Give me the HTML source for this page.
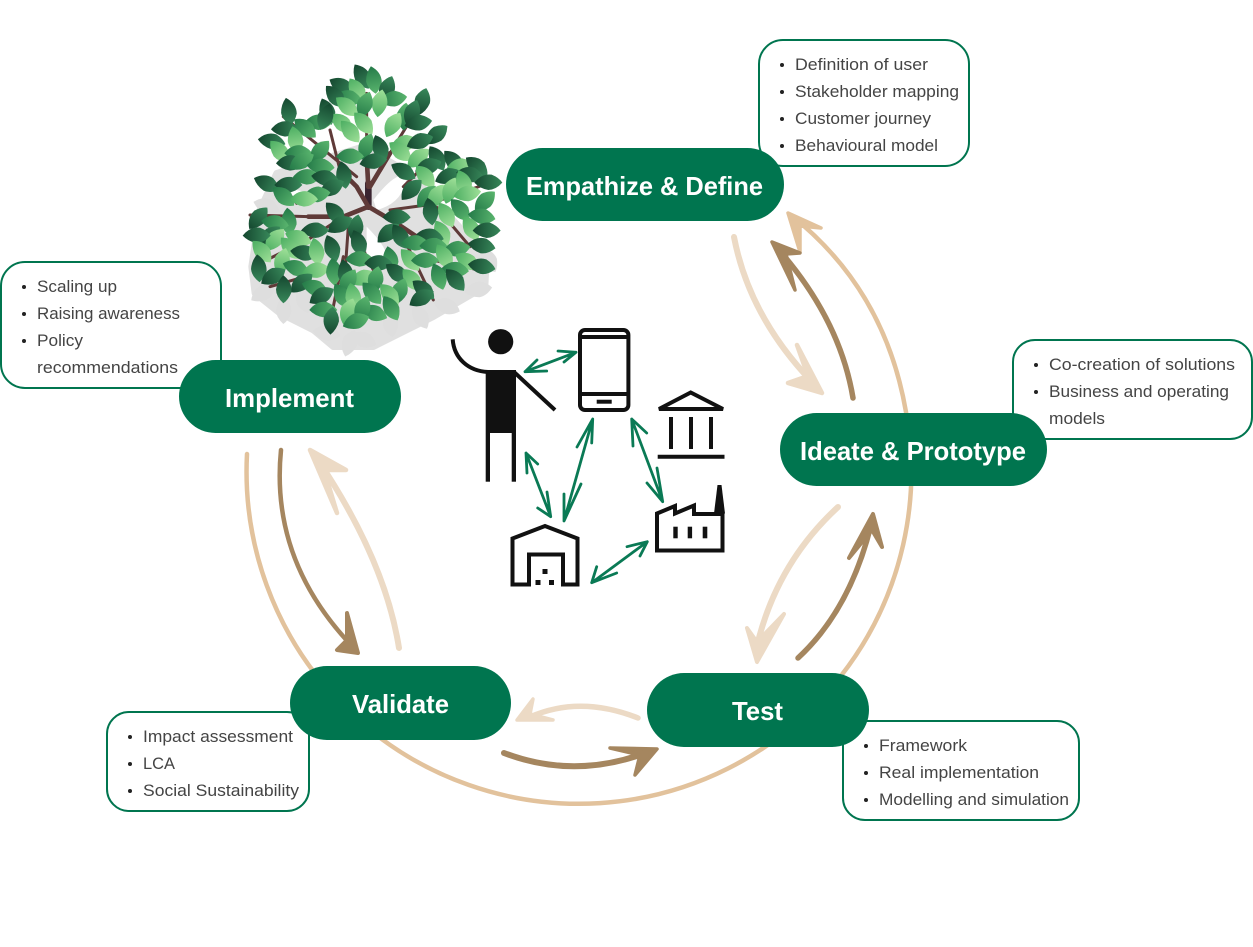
<!DOCTYPE html>
<html lang="en">
<head>
<meta charset="utf-8">
<title>Design cycle diagram</title>
<style>
html,body{margin:0;padding:0;background:#fff;width:1253px;height:947px;overflow:hidden}
svg{display:block}
.b{font-family:"Liberation Sans",sans-serif;font-size:17px;fill:#444}
.p{font-family:"Liberation Sans",sans-serif;font-size:26px;font-weight:700;fill:#fff}
.box{fill:#fff;stroke:#00754f;stroke-width:2}
.pill{fill:#00754f}
.dot{fill:#222}
.ga{fill:none;stroke:#0a7a55;stroke-width:2.8;stroke-linecap:round;stroke-linejoin:round}
.k{fill:none;stroke:#111;stroke-width:4}
</style>
</head>
<body>
<svg width="1253" height="947" viewBox="0 0 1253 947" xmlns="http://www.w3.org/2000/svg">
<defs>
<linearGradient id="gd" x1="0" y1="0" x2="1" y2="0"><stop offset="0" stop-color="#14472f"/><stop offset="1" stop-color="#38885a"/></linearGradient>
<linearGradient id="gm" x1="0" y1="0" x2="1" y2="0"><stop offset="0" stop-color="#247a48"/><stop offset="1" stop-color="#5ab56e"/></linearGradient>
<linearGradient id="gl" x1="0" y1="0" x2="1" y2="0"><stop offset="0" stop-color="#4cae62"/><stop offset="1" stop-color="#9fe098"/></linearGradient>
<path id="d" fill="url(#gd)" d="M-42 0Q-20-28 10-24Q32-15 42 0Q22 22 0 22Q-25 18-42 0Z"/>
<path id="m" fill="url(#gm)" d="M-42 0Q-20-28 10-24Q32-15 42 0Q22 22 0 22Q-25 18-42 0Z"/>
<path id="l" fill="url(#gl)" d="M-42 0Q-20-28 10-24Q32-15 42 0Q22 22 0 22Q-25 18-42 0Z"/>
<path id="s" fill="#dedede" d="M-42 0Q-20-28 10-24Q32-15 42 0Q22 22 0 22Q-25 18-42 0Z"/>
</defs>

<!-- Big circular arc with head -->
<path d="M247 454A332.4 332.4 0 1 0 906 412Q885 290 792 216" fill="none" stroke="#e2c29c" stroke-width="4.5" stroke-linecap="round"/>
<path d="M788 213L821 228L800 226L800 252Z" fill="#e2c29c" stroke="#e2c29c" stroke-width="3.5" stroke-linejoin="round"/>

<!-- Brown / pale arrows -->
<g fill="none" stroke-linecap="round">
<path d="M853 398Q840 320 779 250" stroke="#a5865f" stroke-width="5.5"/>
<path d="M734 237Q750 320 818 388" stroke="#ecdac5" stroke-width="6"/>
<path d="M838 507Q775 565 756 650" stroke="#ecdac5" stroke-width="6"/>
<path d="M798 658Q850 610 871 525" stroke="#a5865f" stroke-width="5.5"/>
<path d="M638 718Q580 695 530 717" stroke="#ecdac5" stroke-width="5.5"/>
<path d="M504 753Q575 780 648 752" stroke="#a5865f" stroke-width="6"/>
<path d="M281 450Q270 560 352 646" stroke="#a5865f" stroke-width="4.5"/>
<path d="M399 648Q385 560 318 460" stroke="#ecdac5" stroke-width="6"/>
</g>
<g stroke-linejoin="round">
<path d="M772 242L800 253L786 254L795 290Z" fill="#a5865f" stroke="#a5865f" stroke-width="3.5"/>
<path d="M822 393L797 345L808 376L788 383Z" fill="#ecdac5" stroke="#ecdac5" stroke-width="4.5"/>
<path d="M757 662L747 628L757 642L784 614Z" fill="#ecdac5" stroke="#ecdac5" stroke-width="4"/>
<path d="M873 514L882 547L872 530L849 558Z" fill="#a5865f" stroke="#a5865f" stroke-width="4"/>
<path d="M517 720L533 699L530 714L553 720Z" fill="#ecdac5" stroke="#ecdac5" stroke-width="3.5"/>
<path d="M657 749L610 748L640 755L635 775Z" fill="#a5865f" stroke="#a5865f" stroke-width="3.5"/>
<path d="M358 653L347 613L347 640L337 650Z" fill="#a5865f" stroke="#a5865f" stroke-width="4"/>
<path d="M310 450L346 470L324 470L337 513Z" fill="#ecdac5" stroke="#ecdac5" stroke-width="4.5"/>
</g>

<!-- Tree (coordinates in 3x space) -->
<g transform="translate(230 60) scale(.3333)">
<g>
<path fill="#e0e0e0" stroke="#e0e0e0" stroke-width="20" stroke-linejoin="round" d="M140 340L400 260L540 340L770 590L765 680L610 770L430 860L310 860L250 810L150 760L75 700L65 620L90 450Z"/>
<path fill="#fff" d="M430 420Q500 330 530 350Q520 430 440 450Z M175 385L250 400L195 420Z M410 500Q470 560 470 590L410 590Z"/>
<use href="#s" transform="translate(110 440) rotate(20)"/><use href="#s" transform="translate(100 700) rotate(-30)"/><use href="#s" transform="translate(160 750) rotate(90)"/>
<use href="#s" transform="translate(290 820) rotate(10)"/><use href="#s" transform="translate(360 850) rotate(-70)"/><use href="#s" transform="translate(400 840) rotate(20)"/>
<use href="#s" transform="translate(570 770) rotate(60)"/><use href="#s" transform="translate(650 740) rotate(20)"/><use href="#s" transform="translate(745 690) rotate(-10)"/>
<use href="#s" transform="translate(220 720) rotate(70)"/><use href="#s" transform="translate(480 790) rotate(80)"/><use href="#s" transform="translate(775 600) rotate(60)"/>
</g>
<g fill="none" stroke="#5f3a38" stroke-linecap="round">
<path stroke="#3a2430" stroke-width="20" d="M415 370V440"/>
<path stroke-width="14" d="M415 440L380 380L330 330M415 380L410 290M420 380L480 280M415 440L340 470L235 470M415 440L500 490L560 530"/>
<path stroke-width="9" d="M340 470L240 535L110 600M355 500L345 640M480 450L590 435L760 375M330 330L300 210M480 280L560 150M410 290L410 100M380 350L160 170M235 470L60 465M500 490L610 720M340 590L300 790M400 570L460 690M560 590L770 635M520 380L610 290M610 430L720 560M200 430L160 380M330 620L120 680"/>
</g>
<use href="#d" transform="translate(395 50) rotate(60)"/><use href="#m" transform="translate(430 60) rotate(80)"/><use href="#d" transform="translate(335 80) rotate(30)"/><use href="#l" transform="translate(380 92) rotate(60)"/><use href="#d" transform="translate(472 88) rotate(-70)"/><use href="#m" transform="translate(355 115) rotate(10)"/><use href="#d" transform="translate(315 110) rotate(50)"/><use href="#m" transform="translate(490 118) rotate(-10)"/><use href="#l" transform="translate(450 130) rotate(-80)"/><use href="#m" transform="translate(405 135) rotate(-70)"/><use href="#d" transform="translate(578 125) rotate(-75)"/><use href="#l" transform="translate(350 140) rotate(40)"/><use href="#d" transform="translate(290 155) rotate(70)"/><use href="#d" transform="translate(175 155) rotate(80)"/><use href="#l" transform="translate(400 190) rotate(50)"/><use href="#m" transform="translate(525 170) rotate(-85)"/><use href="#d" transform="translate(547 160) rotate(-70)"/><use href="#l" transform="translate(490 195) rotate(-60)"/><use href="#d" transform="translate(565 190) rotate(-10)"/><use href="#m" transform="translate(265 188) rotate(0)"/><use href="#l" transform="translate(335 190) rotate(40)"/><use href="#l" transform="translate(360 215) rotate(50)"/><use href="#d" transform="translate(165 208) rotate(0)"/><use href="#m" transform="translate(225 205) rotate(40)"/><use href="#d" transform="translate(620 225) rotate(-40)"/><use href="#l" transform="translate(195 240) rotate(80)"/><use href="#d" transform="translate(125 245) rotate(10)"/><use href="#d" transform="translate(285 170) rotate(110)"/><use href="#m" transform="translate(410 260) rotate(-70)"/><use href="#d" transform="translate(450 265) rotate(70)"/><use href="#l" transform="translate(525 250) rotate(-10)"/><use href="#d" transform="translate(570 245) rotate(-20)"/><use href="#l" transform="translate(148 275) rotate(50)"/><use href="#m" transform="translate(205 280) rotate(0)"/><use href="#l" transform="translate(510 275) rotate(40)"/><use href="#m" transform="translate(270 275) rotate(-50)"/><use href="#m" transform="translate(360 290) rotate(0)"/><use href="#l" transform="translate(565 295) rotate(-40)"/><use href="#d" transform="translate(180 310) rotate(0)"/><use href="#m" transform="translate(215 305) rotate(-30)"/><use href="#m" transform="translate(272 320) rotate(5)"/><use href="#d" transform="translate(430 305) rotate(-10)"/><use href="#d" transform="translate(520 335) rotate(30)"/><use href="#d" transform="translate(620 295) rotate(60)"/><use href="#d" transform="translate(595 320) rotate(-20)"/><use href="#d" transform="translate(340 345) rotate(80)"/><use href="#l" transform="translate(585 350) rotate(50)"/><use href="#d" transform="translate(670 305) rotate(50)"/><use href="#l" transform="translate(690 320) rotate(-10)"/><use href="#d" transform="translate(740 320) rotate(40)"/><use href="#m" transform="translate(230 352) rotate(0)"/><use href="#d" transform="translate(285 355) rotate(10)"/><use href="#d" transform="translate(655 350) rotate(-20)"/><use href="#d" transform="translate(720 345) rotate(10)"/><use href="#d" transform="translate(110 372) rotate(25)"/><use href="#d" transform="translate(175 375) rotate(0)"/><use href="#d" transform="translate(305 385) rotate(-30)"/><use href="#m" transform="translate(160 410) rotate(40)"/><use href="#m" transform="translate(260 405) rotate(-10)"/><use href="#l" transform="translate(222 418) rotate(0)"/><use href="#d" transform="translate(545 390) rotate(-45)"/><use href="#m" transform="translate(590 410) rotate(-50)"/><use href="#l" transform="translate(620 410) rotate(-60)"/><use href="#l" transform="translate(662 392) rotate(-70)"/><use href="#l" transform="translate(700 370) rotate(70)"/><use href="#d" transform="translate(775 368) rotate(0)"/><use href="#l" transform="translate(712 402) rotate(-10)"/><use href="#m" transform="translate(765 425) rotate(-45)"/><use href="#m" transform="translate(690 450) rotate(50)"/><use href="#l" transform="translate(648 465) rotate(60)"/><use href="#d" transform="translate(600 455) rotate(80)"/><use href="#d" transform="translate(315 460) rotate(50)"/><use href="#m" transform="translate(175 485) rotate(85)"/><use href="#d" transform="translate(85 475) rotate(-50)"/><use href="#m" transform="translate(135 490) rotate(10)"/><use href="#m" transform="translate(755 470) rotate(10)"/><use href="#d" transform="translate(378 505) rotate(-80)"/><use href="#d" transform="translate(330 495) rotate(-30)"/><use href="#d" transform="translate(500 472) rotate(0)"/><use href="#l" transform="translate(635 520) rotate(65)"/><use href="#l" transform="translate(722 505) rotate(60)"/><use href="#d" transform="translate(770 512) rotate(0)"/><use href="#d" transform="translate(475 520) rotate(-40)"/><use href="#d" transform="translate(255 512) rotate(0)"/><use href="#d" transform="translate(120 530) rotate(-45)"/><use href="#l" transform="translate(205 535) rotate(20)"/><use href="#l" transform="translate(135 540) rotate(-50)"/><use href="#d" transform="translate(80 527) rotate(0)"/><use href="#d" transform="translate(510 530) rotate(60)"/><use href="#d" transform="translate(385 550) rotate(70)"/><use href="#d" transform="translate(600 530) rotate(10)"/><use href="#m" transform="translate(555 550) rotate(0)"/><use href="#m" transform="translate(610 558) rotate(0)"/><use href="#d" transform="translate(755 558) rotate(10)"/><use href="#m" transform="translate(680 568) rotate(-10)"/><use href="#l" transform="translate(95 575) rotate(50)"/><use href="#l" transform="translate(180 565) rotate(50)"/><use href="#d" transform="translate(222 580) rotate(10)"/><use href="#l" transform="translate(258 575) rotate(80)"/><use href="#d" transform="translate(305 565) rotate(70)"/><use href="#m" transform="translate(480 600) rotate(80)"/><use href="#l" transform="translate(540 600) rotate(50)"/><use href="#l" transform="translate(642 590) rotate(60)"/><use href="#m" transform="translate(388 598) rotate(0)"/><use href="#l" transform="translate(157 605) rotate(-75)"/><use href="#d" transform="translate(85 625) rotate(85)"/><use href="#d" transform="translate(445 610) rotate(0)"/><use href="#m" transform="translate(585 602) rotate(0)"/><use href="#l" transform="translate(712 605) rotate(30)"/><use href="#d" transform="translate(755 620) rotate(10)"/><use href="#m" transform="translate(198 625) rotate(20)"/><use href="#l" transform="translate(258 632) rotate(-10)"/><use href="#m" transform="translate(310 635) rotate(85)"/><use href="#d" transform="translate(345 640) rotate(80)"/><use href="#d" transform="translate(500 640) rotate(40)"/><use href="#m" transform="translate(675 630) rotate(5)"/><use href="#m" transform="translate(625 650) rotate(70)"/><use href="#d" transform="translate(130 650) rotate(-30)"/><use href="#l" transform="translate(400 655) rotate(-20)"/><use href="#d" transform="translate(215 670) rotate(-40)"/><use href="#l" transform="translate(545 660) rotate(50)"/><use href="#d" transform="translate(675 660) rotate(50)"/><use href="#d" transform="translate(160 688) rotate(90)"/><use href="#m" transform="translate(255 685) rotate(20)"/><use href="#m" transform="translate(355 665) rotate(-60)"/><use href="#m" transform="translate(438 660) rotate(-80)"/><use href="#m" transform="translate(510 695) rotate(-70)"/><use href="#d" transform="translate(580 690) rotate(40)"/><use href="#m" transform="translate(425 700) rotate(50)"/><use href="#l" transform="translate(478 705) rotate(50)"/><use href="#m" transform="translate(335 708) rotate(60)"/><use href="#d" transform="translate(275 708) rotate(-30)"/><use href="#l" transform="translate(368 710) rotate(80)"/><use href="#d" transform="translate(575 715) rotate(-30)"/><use href="#m" transform="translate(482 745) rotate(60)"/><use href="#m" transform="translate(280 750) rotate(0)"/><use href="#l" transform="translate(355 755) rotate(-70)"/><use href="#m" transform="translate(432 760) rotate(20)"/><use href="#m" transform="translate(398 748) rotate(-70)"/><use href="#d" transform="translate(305 782) rotate(-85)"/><use href="#m" transform="translate(378 785) rotate(-20)"/>
</g>

<!-- Boxes -->
<rect class="box" x="759" y="40" width="210" height="126" rx="24"/>
<rect class="box" x="1" y="262" width="220" height="126" rx="24"/>
<rect class="box" x="1013" y="340" width="239" height="99" rx="22"/>
<rect class="box" x="843" y="721" width="236" height="99" rx="22"/>
<rect class="box" x="107" y="712" width="202" height="99" rx="22"/>

<g class="dot">
<circle cx="782" cy="65" r="2"/><circle cx="782" cy="92" r="2"/><circle cx="782" cy="119" r="2"/><circle cx="782" cy="146" r="2"/>
<circle cx="24" cy="287" r="2"/><circle cx="24" cy="314" r="2"/><circle cx="24" cy="341" r="2"/>
<circle cx="1036" cy="365" r="2"/><circle cx="1036" cy="392" r="2"/>
<circle cx="866" cy="746" r="2"/><circle cx="866" cy="773" r="2"/><circle cx="866" cy="800" r="2"/>
<circle cx="130" cy="737" r="2"/><circle cx="130" cy="764" r="2"/><circle cx="130" cy="791" r="2"/>
</g>
<g class="b">
<text x="795" y="70" textLength="133" lengthAdjust="spacingAndGlyphs">Definition of user</text>
<text x="795" y="97" textLength="164" lengthAdjust="spacingAndGlyphs">Stakeholder mapping</text>
<text x="795" y="124" textLength="136" lengthAdjust="spacingAndGlyphs">Customer journey</text>
<text x="795" y="151" textLength="143" lengthAdjust="spacingAndGlyphs">Behavioural model</text>
<text x="37" y="292" textLength="80" lengthAdjust="spacingAndGlyphs">Scaling up</text>
<text x="37" y="319" textLength="143" lengthAdjust="spacingAndGlyphs">Raising awareness</text>
<text x="37" y="346" textLength="46" lengthAdjust="spacingAndGlyphs">Policy</text>
<text x="37" y="373" textLength="141" lengthAdjust="spacingAndGlyphs">recommendations</text>
<text x="1049" y="370" textLength="186" lengthAdjust="spacingAndGlyphs">Co-creation of solutions</text>
<text x="1049" y="397" textLength="180" lengthAdjust="spacingAndGlyphs">Business and operating</text>
<text x="1049" y="424" textLength="56" lengthAdjust="spacingAndGlyphs">models</text>
<text x="879" y="751" textLength="88" lengthAdjust="spacingAndGlyphs">Framework</text>
<text x="879" y="778" textLength="160" lengthAdjust="spacingAndGlyphs">Real implementation</text>
<text x="879" y="805" textLength="190" lengthAdjust="spacingAndGlyphs">Modelling and simulation</text>
<text x="143" y="742" textLength="150" lengthAdjust="spacingAndGlyphs">Impact assessment</text>
<text x="143" y="769" textLength="32" lengthAdjust="spacingAndGlyphs">LCA</text>
<text x="143" y="796" textLength="156" lengthAdjust="spacingAndGlyphs">Social Sustainability</text>
</g>

<!-- Pills -->
<rect class="pill" x="506" y="148" width="278" height="73" rx="36.5"/>
<rect class="pill" x="179" y="360" width="222" height="73" rx="36.5"/>
<rect class="pill" x="780" y="413" width="267" height="73" rx="36.5"/>
<rect class="pill" x="647" y="673" width="222" height="74" rx="37"/>
<rect class="pill" x="290" y="666" width="221" height="74" rx="37"/>
<text class="p" x="526" y="195" textLength="237" lengthAdjust="spacingAndGlyphs">Empathize &amp; Define</text>
<text class="p" x="225" y="407" textLength="129" lengthAdjust="spacingAndGlyphs">Implement</text>
<text class="p" x="800" y="460" textLength="226" lengthAdjust="spacingAndGlyphs">Ideate &amp; Prototype</text>
<text class="p" x="732" y="720" textLength="51" lengthAdjust="spacingAndGlyphs">Test</text>
<text class="p" x="352" y="713" textLength="97" lengthAdjust="spacingAndGlyphs">Validate</text>

<!-- Icons -->
<g fill="#111">
<circle cx="500.7" cy="341.7" r="12.6"/>
<rect x="485.7" y="370" width="30.3" height="63"/>
<rect x="485.7" y="433" width="4.3" height="48.7"/>
<rect x="511.7" y="433" width="4.3" height="48.7"/>
<rect x="673.3" y="526.7" width="4.4" height="11.6"/><rect x="687.7" y="526.7" width="4.4" height="11.6"/><rect x="702.7" y="526.7" width="4.6" height="11.6"/>
<path d="M714 513.5L717.5 485H721.5L725 513.5Z"/>
<rect x="542.5" y="569" width="5" height="5"/><rect x="535.5" y="580" width="5" height="5"/><rect x="549" y="580" width="5" height="5"/>
</g>
<path class="k" d="M452.7 339.3C454 358 468 371 488 372"/>
<path class="k" d="M514 372L555 410"/>
<rect class="k" x="580" y="330" width="48.4" height="80" rx="5"/>
<path class="k" stroke-width="3.6" d="M580 337H628M580 394H628"/>
<path class="k" stroke-width="3" d="M596.7 401.7H611.7"/>
<path class="k" d="M659 409L690.7 392.5L723 409Z" stroke-width="3.6"/>
<path class="k" d="M671 417V449M691 417V449M711 417V449"/>
<path class="k" d="M657.7 456.7H724.5"/>
<path class="k" d="M657 550.5V513.5L675 506V513.5L694 505.5V514H722.5V550.5Z"/>
<path class="k" d="M512.5 584.5V538.5L545 526L577.5 538.5V584.5H563V554.5H529V584.5Z"/>

<!-- Green double arrows -->
<g class="ga">
<path d="M525 371.7L576 352.3M546.7 371L525 371.7L537 360M558 351L576 352.3L564 362"/>
<path d="M526 453L550.7 516.7M527 473L526 453L537.7 464M547 492L550.7 516.7L537.7 508"/>
<path d="M592.7 419L564 521M577 447L592.7 419L591.7 443M564 494L564 521L581 484"/>
<path d="M631.7 419L662.7 501.7M633 446L631.7 419L646.7 433M657 468L662.7 501.7L647 483"/>
<path d="M647.3 541.7L591.7 582.7M627 546.7L647.3 541.7L640 556M596.7 566.7L591.7 582.7L616.7 573"/>
</g>
</svg>
</body>
</html>
